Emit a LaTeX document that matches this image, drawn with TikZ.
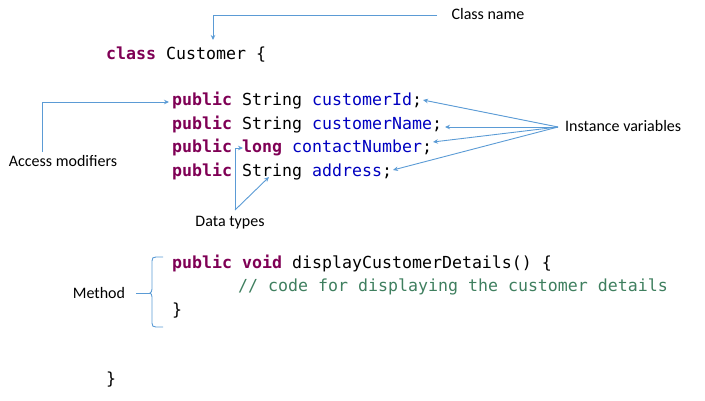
\documentclass[tikz,border=0pt]{standalone}
\usepackage{fontspec}
\setmainfont{Carlito}
\newfontfamily\codefont{DejaVu Sans Mono}
\usetikzlibrary{arrows.meta}
\definecolor{kwcol}{HTML}{7F0055}
\definecolor{varcol}{HTML}{0000C0}
\definecolor{cmtcol}{HTML}{3F7F5F}
\definecolor{arrcol}{HTML}{5B9BD5}
\newcommand{\kwd}[1]{\textcolor{kwcol}{\bfseries #1}}
\newcommand{\vname}[1]{\textcolor{varcol}{#1}}
\begin{document}
\begin{tikzpicture}[x=1pt,y=-1pt,
  codeline/.style={anchor=base west, inner sep=0pt, font=\codefont\fontsize{16.6}{20}\selectfont},
  lbl/.style={inner sep=0pt, font=\fontsize{16}{19}\selectfont},
  conn/.style={draw=arrcol, line width=0.9pt, -{Stealth[length=5pt,width=4.5pt]}},
  plainconn/.style={draw=arrcol, line width=0.9pt}]
\useasboundingbox (0,0) rectangle (705,400);

% code
\node[codeline] (cls) at (106,59) {\kwd{class} Customer \{};
\node[codeline] (l1) at (172,105.5) {\kwd{public} String \vname{customerId};};
\node[codeline] (l2) at (172,129) {\kwd{public} String \vname{customerName};};
\node[codeline] (l3) at (172,152.5) {\kwd{public} \kwd{long} \vname{contactNumber};};
\node[codeline] (l4) at (172,176) {\kwd{public} String \vname{address};};
\node[codeline] (m1) at (172,268) {\kwd{public} \kwd{void} displayCustomerDetails() \{};
\node[codeline] (m2) at (238,291.5) {\textcolor{cmtcol}{// code for displaying the customer details}};
\node[codeline] (m3) at (172,315) {\}};
\node[codeline] (cend) at (106,384) {\}};

% labels
\node[lbl] (cname) at (488,14) {Class name};
\node[lbl] (acc) at (63,161) {Access modifiers};
\node[lbl, anchor=west] (ivar) at (565,126) {Instance variables};
\node[lbl] (dtypes) at (230,223) {Data types};
\node[lbl] (meth) at (99,293) {Method};

% junction / target coordinates
\coordinate (cnj) at (437,15);
\coordinate (clstip) at (213,40);
\coordinate (accj) at (42,152);
\coordinate (acctip) at (169,102);
\coordinate (ivj) at (558,127);
\coordinate (t1) at (423,100);
\coordinate (t2) at (445,127);
\coordinate (t3) at (433,142);
\coordinate (t4) at (393,170);
\coordinate (dtj) at (235,210);
\coordinate (tlong) at (243,148);
\coordinate (tstr) at (269,177);
\coordinate (mj) at (136,293);
\coordinate (btip) at (150,293);

% connectors
\draw[conn] (cnj) -| (clstip);
\draw[conn] (accj) |- (acctip);
\draw[conn] (ivj) -- (t1);
\draw[conn] (ivj) -- (t2);
\draw[conn] (ivj) -- (t3);
\draw[conn] (ivj) -- (t4);
\draw[conn] (dtj) |- (tlong);
\draw[conn] (dtj) -- (tstr);

% method brace
\draw[plainconn] (mj) -- (btip);
\draw[plainconn] (163,257) -- (156,257) .. controls (153,257) and (152,258) .. (152,261)
  -- (152,289) .. controls (152,291) and (151,293) .. (btip)
  .. controls (151,293) and (152,295) .. (152,297)
  -- (152,323) .. controls (152,326) and (153,327) .. (156,327) -- (163,327);
\end{tikzpicture}
\end{document}
